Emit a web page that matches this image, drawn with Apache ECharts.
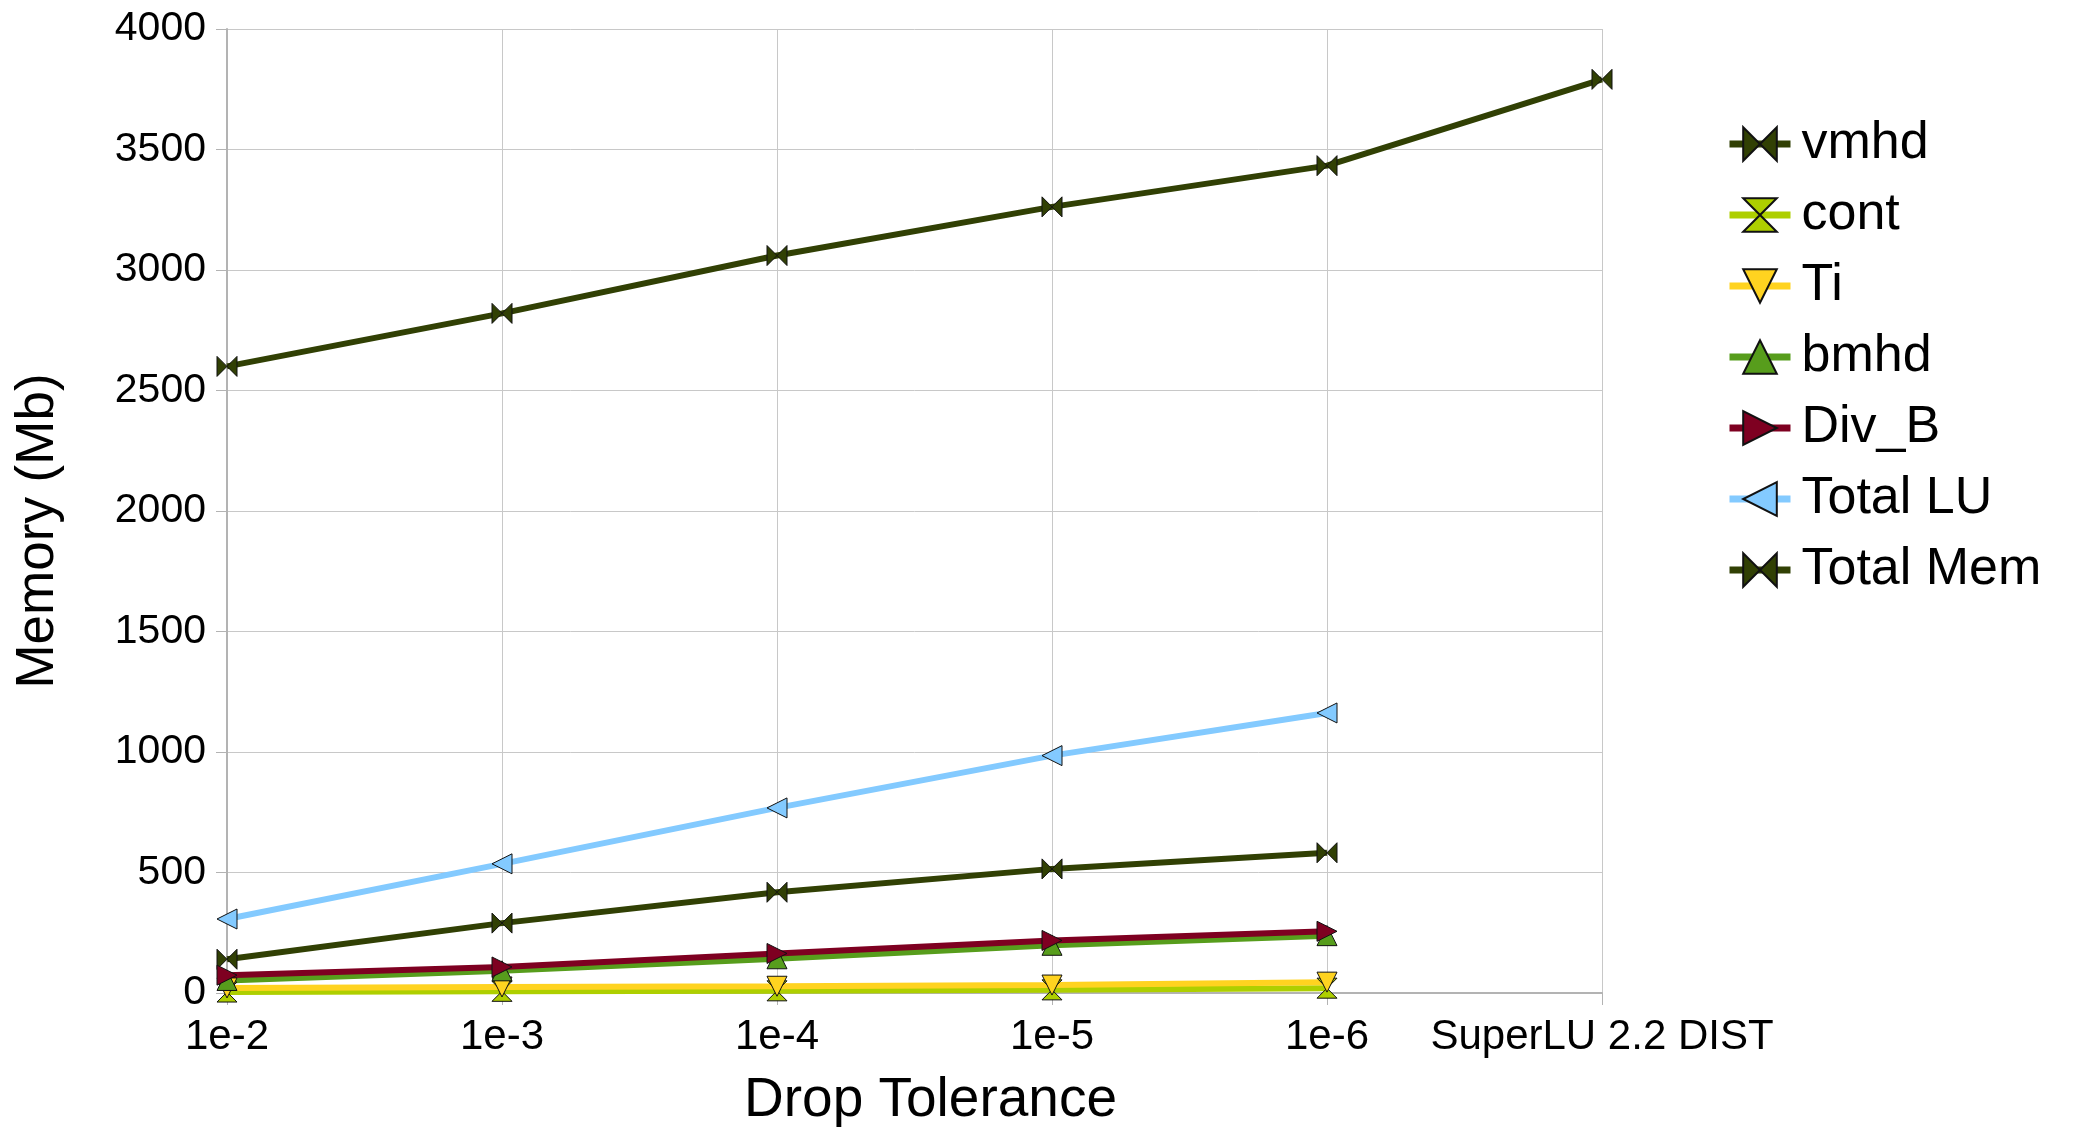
<!DOCTYPE html>
<html>
<head>
<meta charset="utf-8">
<script src="https://cdn.jsdelivr.net/npm/echarts@6/dist/echarts.min.js"></script>
<style>html,body{margin:0;padding:0;background:#fff;}#c{width:2073px;height:1127px;}</style>
</head>
<body>
<div id="c"></div>
<script>
const categories = ['1e-2', '1e-3', '1e-4', '1e-5', '1e-6', 'SuperLU 2.2 DIST'];
const yTicks = { min: 0, max: 4000, interval: 500 };
const vmhd = [140, 290, 418, 515, 582, null];
const cont = [4, 7, 9, 13, 20, null];
const Ti = [21, 25, 28, 33, 45, null];
const bmhd = [52, 92, 142, 198, 238, null];
const Div_B = [74, 108, 164, 218, 256, null];
const TotalLU = [307, 536, 768, 985, 1162, null];
const TotalMem = [2600, 2820, 3060, 3262, 3433, 3791];

const BOWTIE = 'path://M0,0L10,5L0,10ZM20,0L10,5L20,10Z';
const HOURGLASS = 'path://M0,0L10,0L5,5ZM0,10L10,10L5,5Z';
const DOWN = 'path://M0,0L10,0L5,10Z';
const UP = 'path://M5,0L10,10L0,10Z';
const RIGHT = 'path://M0,0L10,5L0,10Z';
const LEFT = 'path://M10,0L0,5L10,10Z';

function mk(name, data, color, symbol) {
  return {
    name: name, type: 'line', data: data,
    symbol: symbol, symbolSize: [20, 20],
    lineStyle: { color: color, width: 6 },
    itemStyle: { color: color, borderColor: '#111', borderWidth: 1 },
    emphasis: { disabled: true },
    connectNulls: false,
    animation: false
  };
}

const chart = echarts.init(document.getElementById('c'));
const FONT = 'Liberation Sans, Arial, sans-serif';
chart.setOption({
  backgroundColor: '#fff',
  animation: false,
  grid: { left: 227, right: 471, top: 29, bottom: 134, containLabel: false, outerBoundsMode: 'none' },
  legend: {
    orient: 'vertical', left: 1721, top: 113,
    itemWidth: 61, itemHeight: 42, itemGap: 19,
    lineStyle: { width: 7 },
    textStyle: { fontFamily: FONT, fontSize: 52, color: '#000', lineHeight: 52, padding: [0, 0, 0, 6] },
    data: ['vmhd', 'cont', 'Ti', 'bmhd', 'Div_B', 'Total LU', 'Total Mem']
  },
  xAxis: {
    type: 'category', data: categories, boundaryGap: false,
    name: 'Drop Tolerance', nameLocation: 'middle', nameGap: 80,
    nameTextStyle: { fontFamily: FONT, fontSize: 55, color: '#000', padding: [0, 0, 0, 32] },
    axisLine: { lineStyle: { color: '#b3b3b3', width: 2 } },
    axisTick: { show: true, length: 12, interval: 0, lineStyle: { color: '#b3b3b3' } },
    axisLabel: { fontFamily: FONT, fontSize: 42, color: '#000', margin: 23, interval: 0 },
    splitLine: { show: true, interval: 0, lineStyle: { color: '#c8c8c8', width: 1 } }
  },
  yAxis: {
    type: 'value', min: yTicks.min, max: yTicks.max, interval: yTicks.interval,
    name: 'Memory (Mb)', nameLocation: 'middle', nameGap: 162,
    nameTextStyle: { fontFamily: FONT, fontSize: 53, color: '#000', padding: [0, 40, 0, 0] },
    axisLine: { show: true, lineStyle: { color: '#b3b3b3', width: 2 } },
    axisTick: { show: true, length: 11, lineStyle: { color: '#b3b3b3' } },
    axisLabel: { fontFamily: FONT, fontSize: 41, color: '#000', margin: 21, formatter: function (v) { return String(v); } },
    splitLine: { show: true, lineStyle: { color: '#c8c8c8', width: 1 } }
  },
  series: [
    mk('vmhd', vmhd, '#314004', BOWTIE),
    mk('cont', cont, '#aecf00', HOURGLASS),
    mk('Ti', Ti, '#ffd320', DOWN),
    mk('bmhd', bmhd, '#579d1c', UP),
    mk('Div_B', Div_B, '#7e0021', RIGHT),
    mk('Total LU', TotalLU, '#83caff', LEFT),
    mk('Total Mem', TotalMem, '#314004', BOWTIE)
  ]
});
</script>
</body>
</html>
